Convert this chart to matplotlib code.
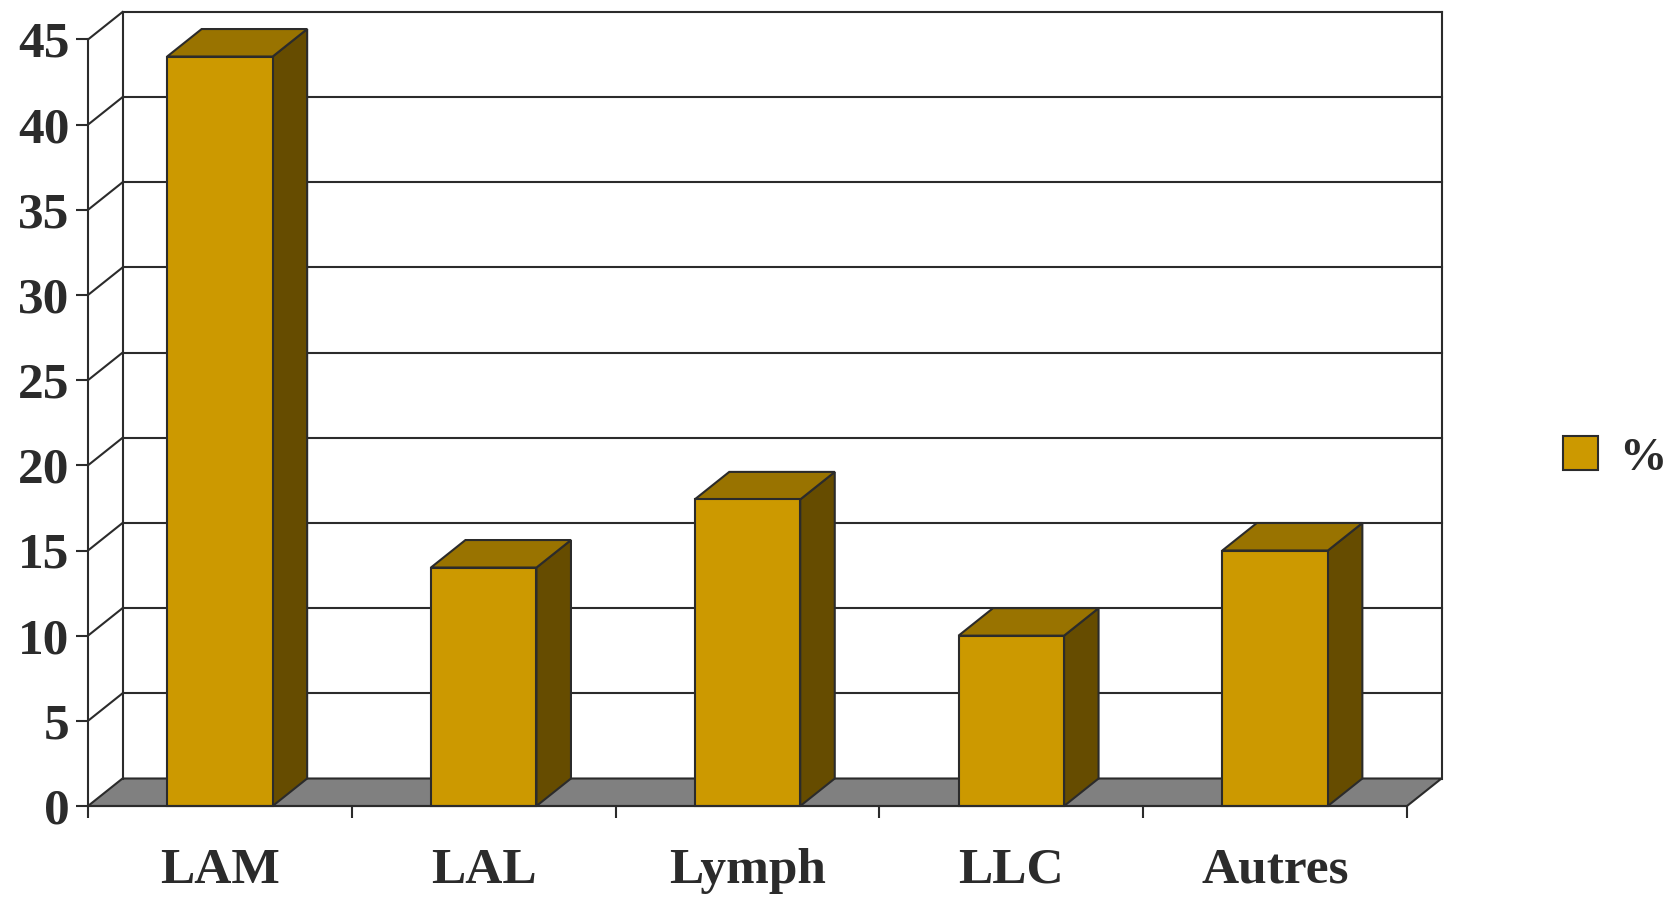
import matplotlib.pyplot as plt
from matplotlib.patches import Polygon, Patch

categories = ["LAM", "LAL", "Lymph", "LLC", "Autres"]
values = [44, 14, 18, 10, 15]
series_name = "%"
yticks = [0, 5, 10, 15, 20, 25, 30, 35, 40, 45]

FRONT = "#CC9900"
TOP = "#997300"
SIDE = "#664C00"
FLOOR = "#808080"
EDGE = "#2b2b2b"
FONT = "Liberation Serif"

W, H = 1668, 898
fig = plt.figure(figsize=(W / 100, H / 100), dpi=100)
# front plane of the 3D box in pixels: x 88..1407, y(0)=806, y(45)=39.5 from top
ax = fig.add_axes([88 / W, 92 / H, 1319 / W, 766.5 / H])
n = len(categories)
ymax = yticks[-1]
ax.set_xlim(0, n)
ax.set_ylim(0, ymax)

# depth offset of the back wall in data units
dx = 34.5 / (1319 / n)
dy = 27.5 / (766.5 / ymax)
lw = 1.5

# floor
ax.add_patch(Polygon([(0, 0), (n, 0), (n + dx, dy), (dx, dy)], closed=True,
                     facecolor=FLOOR, edgecolor=EDGE, lw=lw, clip_on=False, zorder=1))
# back wall gridlines + left wall diagonals
for t in yticks:
    if t > 0:
        ax.plot([dx, n + dx], [t + dy, t + dy], color=EDGE, lw=lw, clip_on=False, zorder=1)
        ax.plot([0, dx], [t, t + dy], color=EDGE, lw=lw, clip_on=False, zorder=1)
# back wall verticals
ax.plot([dx, dx], [dy, ymax + dy], color=EDGE, lw=lw, clip_on=False, zorder=1)
ax.plot([n + dx, n + dx], [dy, ymax + dy], color=EDGE, lw=lw, clip_on=False, zorder=1)

# bars
bw = 0.4
for i, v in enumerate(values):
    x0 = i + 0.5 - bw / 2
    x1 = x0 + bw
    ax.add_patch(Polygon([(x1, 0), (x1 + dx, dy), (x1 + dx, v + dy), (x1, v)], closed=True,
                         facecolor=SIDE, edgecolor=EDGE, lw=lw, clip_on=False, zorder=3))
    ax.add_patch(Polygon([(x0, v), (x1, v), (x1 + dx, v + dy), (x0 + dx, v + dy)], closed=True,
                         facecolor=TOP, edgecolor=EDGE, lw=lw, clip_on=False, zorder=3))
    ax.add_patch(Polygon([(x0, 0), (x1, 0), (x1, v), (x0, v)], closed=True,
                         facecolor=FRONT, edgecolor=EDGE, lw=lw, clip_on=False, zorder=4))

# axes styling
for s in ["top", "right"]:
    ax.spines[s].set_visible(False)
for s in ["left", "bottom"]:
    ax.spines[s].set_color(EDGE)
    ax.spines[s].set_linewidth(lw)
    ax.spines[s].set_zorder(5)
ax.patch.set_visible(False)

ax.set_yticks(yticks)
ax.set_yticklabels([str(t) for t in yticks], fontsize=37, fontweight="bold",
                   family=FONT, color=EDGE)
ax.tick_params(axis="y", direction="out", length=8.4, width=lw, color=EDGE, pad=5)

ax.set_xticks(range(n + 1))
ax.set_xticklabels([])
ax.tick_params(axis="x", which="major", direction="out", length=8.6, width=lw, color=EDGE)
ax.set_xticks([i + 0.5 for i in range(n)], minor=True)
ax.set_xticklabels(categories, minor=True, fontsize=37, fontweight="bold",
                   family=FONT, color=EDGE)
ax.tick_params(axis="x", which="minor", length=0, pad=30)

leg = fig.legend(handles=[Patch(facecolor=FRONT, edgecolor=EDGE, lw=lw, label=series_name)],
                 loc="center left", bbox_to_anchor=(1563 / W, 1 - 458 / H), frameon=False,
                 prop={"family": FONT, "weight": "bold", "size": 34},
                 handlelength=0.74, handleheight=0.74, handletextpad=0.45,
                 borderpad=0, borderaxespad=0, labelcolor=EDGE)

fig.savefig("out.png", dpi=100)
